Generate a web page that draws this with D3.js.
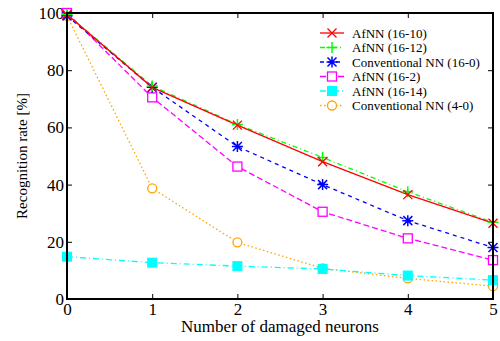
<!DOCTYPE html>
<html>
<head>
<meta charset="utf-8">
<script src="https://cdn.jsdelivr.net/npm/d3@7"></script>
<style>
  body { margin: 0; background: #fff; }
  svg text { font-family: "Liberation Serif", "DejaVu Serif", serif; fill: #000; }
</style>
</head>
<body>
<svg id="chart" width="500" height="341"></svg>
<script>
const damaged = [0, 1, 2, 3, 4, 5];
const afnn1610 = [99.5, 74, 60.8, 48, 36.5, 26.5];
const afnn1612 = [99.5, 74.5, 61, 49.5, 37.5, 26.8];
const conv160 = [99, 74, 53.3, 40, 27.4, 18];
const afnn162 = [100, 70.5, 46.3, 30.5, 21.2, 13.6];
const afnn1614 = [14.8, 12.7, 11.5, 10.5, 8.2, 6.6];
const conv40 = [99, 38.7, 19.8, 10.7, 7.2, 4.5];
const yTicks = [0, 20, 40, 60, 80, 100];

const series = [
  { name: 'AfNN (16-10)', values: afnn1610, color: '#ff0000', dash: null, marker: 'x' },
  { name: 'AfNN (16-12)', values: afnn1612, color: '#00ff00', dash: '5,3,1,3', marker: 'plus' },
  { name: 'Conventional NN (16-0)', values: conv160, color: '#0000ff', dash: '4,4', marker: 'star' },
  { name: 'AfNN (16-2)', values: afnn162, color: '#ff00ff', dash: '6,3', marker: 'square' },
  { name: 'AfNN (16-14)', values: afnn1614, color: '#00ffff', dash: '6,3,1,3', marker: 'filledsquare' },
  { name: 'Conventional NN (4-0)', values: conv40, color: '#ffa500', dash: '1.5,2.5', marker: 'circle' }
];

const svg = d3.select('#chart');
const margin = { top: 13, right: 7, bottom: 42, left: 67 };
const width = 500;
const height = 341;
const innerWidth = width - margin.left - margin.right;
const innerHeight = height - margin.top - margin.bottom;
const plot = svg.append('g').attr('transform', `translate(${margin.left},${margin.top})`);

const x = d3.scaleLinear().domain([0, 5]).range([0, innerWidth]);
const y = d3.scaleLinear().domain([0, 100]).range([innerHeight, 0]);

function styleAxis(g) {
  g.selectAll('path').remove();
  g.selectAll('line').attr('stroke', '#000').attr('stroke-width', 1);
  g.selectAll('text').style('font-size', '17px');
}
function noLabels(g) {
  g.selectAll('text').remove();
}
plot.append('g').attr('transform', `translate(0,${innerHeight})`)
  .call(d3.axisBottom(x).tickValues(damaged).tickSizeInner(-5).tickPadding(4).tickFormat(d3.format('d')))
  .call(styleAxis);
plot.append('g')
  .call(d3.axisLeft(y).tickValues(yTicks).tickSizeInner(-5).tickPadding(3))
  .call(styleAxis);
plot.append('g')
  .call(d3.axisTop(x).tickValues(damaged).tickSizeInner(-5))
  .call(styleAxis)
  .call(noLabels);
plot.append('g').attr('transform', `translate(${innerWidth},0)`)
  .call(d3.axisRight(y).tickValues(yTicks).tickSizeInner(-5))
  .call(styleAxis)
  .call(noLabels);

const line = d3.line().x((d, i) => x(damaged[i])).y(d => y(d));

function drawMarker(g, type, color) {
  const s = 4.5;
  if (type === 'x') {
    g.append('path').attr('d', `M${-s},${-s}L${s},${s}M${-s},${s}L${s},${-s}`).attr('stroke', color).attr('stroke-width', 1.3);
  } else if (type === 'plus') {
    g.append('path').attr('d', `M${-s - 1},0L${s + 1},0M0,${-s - 1}L0,${s + 1}`).attr('stroke', color).attr('stroke-width', 1.5);
  } else if (type === 'star') {
    g.append('path').attr('d', `M${-s},${-s}L${s},${s}M${-s},${s}L${s},${-s}M${-s - 1},0L${s + 1},0M0,${-s - 1}L0,${s + 1}`).attr('stroke', color).attr('stroke-width', 1.5);
  } else if (type === 'square') {
    g.append('rect').attr('x', -s).attr('y', -s).attr('width', 2 * s).attr('height', 2 * s)
      .attr('fill', '#fff').attr('stroke', color).attr('stroke-width', 1.3);
  } else if (type === 'filledsquare') {
    g.append('rect').attr('x', -s).attr('y', -s).attr('width', 2 * s).attr('height', 2 * s)
      .attr('fill', color).attr('stroke', color);
  } else if (type === 'circle') {
    g.append('circle').attr('r', s).attr('fill', '#fff').attr('stroke', color).attr('stroke-width', 1.3);
  }
}

const lines = plot.append('g');
series.slice().reverse().forEach(s => {
  lines.append('path')
    .datum(s.values)
    .attr('d', line)
    .attr('fill', 'none')
    .attr('stroke', s.color)
    .attr('stroke-width', 1.3)
    .attr('stroke-dasharray', s.dash);
});
series.slice().reverse().forEach(s => {
  s.values.forEach((v, i) => {
    const g = lines.append('g').attr('transform', `translate(${x(damaged[i])},${y(v)})`);
    drawMarker(g, s.marker, s.color);
  });
});

// frame
plot.append('rect').attr('width', innerWidth).attr('height', innerHeight)
  .attr('fill', 'none').attr('stroke', '#000').attr('stroke-width', 2);

// legend
const legend = svg.append('g').attr('transform', 'translate(320,33)');
series.forEach((s, i) => {
  const row = legend.append('g').attr('transform', `translate(0,${i * 14.5})`);
  row.append('line').attr('x1', 0).attr('x2', 24).attr('y1', 0).attr('y2', 0)
    .attr('stroke', s.color).attr('stroke-width', 1.3).attr('stroke-dasharray', s.dash);
  drawMarker(row.append('g').attr('transform', 'translate(12,0)'), s.marker, s.color);
  row.append('text').attr('x', 32).attr('y', 4.5).style('font-size', '13px').text(s.name);
});

svg.append('text')
  .attr('x', margin.left + innerWidth / 2)
  .attr('y', 332)
  .attr('text-anchor', 'middle')
  .style('font-size', '17px')
  .text('Number of damaged neurons');
svg.append('text')
  .attr('transform', `translate(27,${margin.top + innerHeight / 2}) rotate(-90)`)
  .attr('text-anchor', 'middle')
  .style('font-size', '15px')
  .text('Recognition rate [%]');
</script>
</body>
</html>
